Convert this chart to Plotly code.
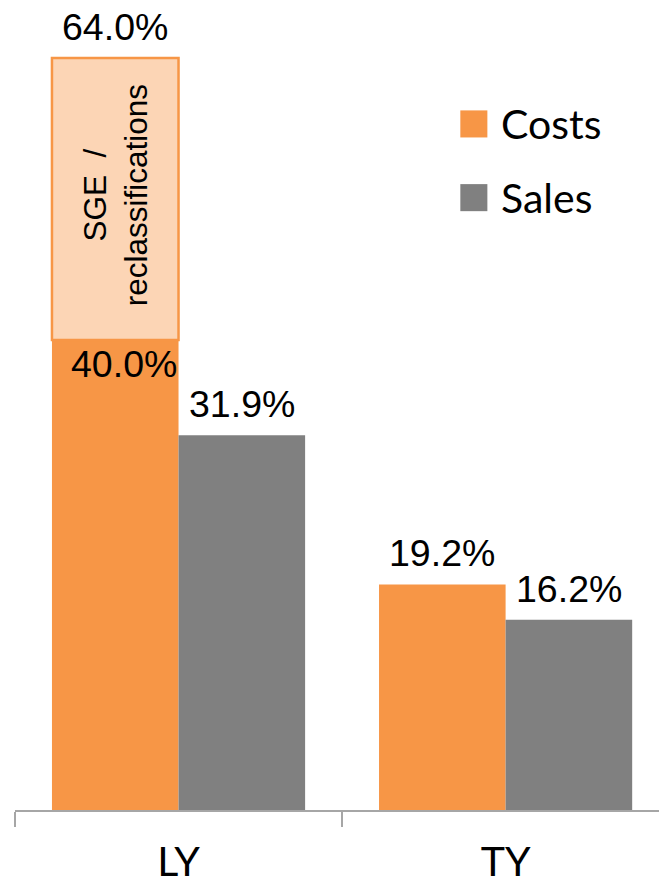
import plotly.graph_objects as go

# Category labels and series values (percent)
categories = ["LY", "TY"]
series_names = ["Costs", "Sales"]
costs = [40.0, 19.2]
sales = [31.9, 16.2]
series_values = [costs, sales]
series_colors = ["#F79646", "#808080"]

# Extra LY cost segment stacked on the costs bar
sge_base = [40.0]
sge_top = [64.0]
sge_label = "SGE  /<br>reclassifications"

bargap = 0.226
bar_w = (1 - bargap) / 2
offsets = [-bar_w / 2, bar_w / 2]

label_font = dict(family="Liberation Sans, Arial, sans-serif", size=37.5, color="#000000")
cat_font = dict(family="Lato, sans-serif", size=41, color="#000000")

fig = go.Figure()
for name, vals, color in zip(series_names, series_values, series_colors):
    fig.add_trace(go.Bar(
        x=categories, y=vals, name=name, marker_color=color,
        marker_line_width=0, offsetgroup=name, showlegend=False,
    ))

# peach segment on top of LY costs
fig.add_trace(go.Bar(
    x=categories[:1], y=[t - b for t, b in zip(sge_top, sge_base)], base=sge_base,
    offsetgroup="Costs", marker=dict(color="#FCD5B5", line=dict(color="#F79646", width=2.5)),
    showlegend=False,
))

annotations = []
# value labels above the bars
for s, vals in enumerate(series_values):
    for i, v in enumerate(vals):
        if s == 0 and i == 0:
            # sits inside the bar, under the stacked segment
            annotations.append(dict(
                x=i + offsets[s], y=v, xref="x", yref="y", text=f"{v:.1f}%",
                showarrow=False, yanchor="top", xanchor="center", xshift=9, yshift=-1,
                font=label_font))
        else:
            annotations.append(dict(
                x=i + offsets[s], y=v, xref="x", yref="y", text=f"{v:.1f}%",
                showarrow=False, yanchor="bottom", xanchor="center", yshift=8,
                font=label_font))
annotations.append(dict(
    x=0 + offsets[0], y=sge_top[0], xref="x", yref="y", text=f"{sge_top[0]:.1f}%",
    showarrow=False, yanchor="bottom", xanchor="center", yshift=8, font=label_font))
annotations.append(dict(
    x=0 + offsets[0], y=(sge_top[0] + sge_base[0]) / 2, xref="x", yref="y",
    text=sge_label, textangle=-90, showarrow=False, xanchor="center", yanchor="middle",
    font=dict(family="Liberation Sans, Arial, sans-serif", size=31.5, color="#000000"),
    yshift=4))

# legend: swatch + name
shapes = []
legend_x0, legend_sq = 0.6915, 0.042
legend_y = [0.847, 0.756]
for name, color, ly in zip(series_names, series_colors, legend_y):
    shapes.append(dict(type="rect", xref="paper", yref="paper",
                       x0=legend_x0, x1=legend_x0 + legend_sq,
                       y0=ly - 0.0167, y1=ly + 0.0167,
                       fillcolor=color, line_width=0))
    annotations.append(dict(x=legend_x0 + 0.0600, y=ly, xref="paper", yref="paper",
                            text=name, showarrow=False, xanchor="left", yanchor="middle",
                            font=dict(family="Lato, sans-serif", size=41, color="#000000")))

fig.update_layout(
    width=659, height=889,
    margin=dict(l=15, r=0, t=0, b=79),
    paper_bgcolor="#FFFFFF", plot_bgcolor="#FFFFFF",
    barmode="group", bargap=bargap, bargroupgap=0,
    showlegend=False,
    annotations=annotations, shapes=shapes,
    xaxis=dict(range=[-0.5, 1.469], tickson="boundaries", ticks="outside",
               ticklen=15, tickwidth=1.5, tickcolor="#A6A6A6",
               showline=True, linecolor="#A6A6A6", linewidth=1.5,
               showgrid=False, tickfont=cat_font, ticklabelstandoff=15,
               automargin=False, fixedrange=True),
    yaxis=dict(range=[0, 68.94], visible=False, showgrid=False,
               automargin=False, fixedrange=True),
)

fig.write_html("out.html")
